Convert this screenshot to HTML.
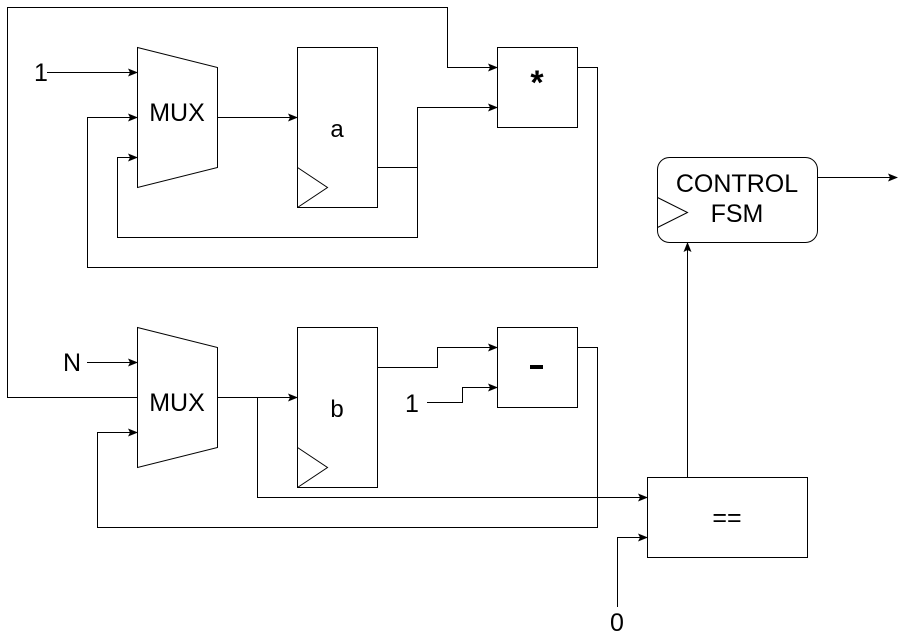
<!DOCTYPE html>
<html><head><style>
body{margin:0;background:#fff;width:906px;height:639px;overflow:hidden}
svg text{font-family:"Liberation Sans",sans-serif;fill:#000}
</style></head><body>
<svg width="906" height="639" viewBox="0 0 906 639" xmlns="http://www.w3.org/2000/svg">
<defs><marker id="a" markerWidth="10" markerHeight="8" refX="9" refY="4" orient="auto" markerUnits="userSpaceOnUse"><path d="M0,0 L10,4 L0,8 L2,4 z" fill="#000"/></marker></defs>
<g fill="none" stroke="#000" stroke-width="1">
<polygon points="137.5,47.5 217.5,67.5 217.5,167.5 137.5,187.5" fill="#fff"/>
<polygon points="137.5,327.5 217.5,347.5 217.5,447.5 137.5,467.5" fill="#fff"/>
<rect x="297.5" y="47.5" width="80" height="160"/>
<path d="M297.5,167.5 L327.5,187.5 L297.5,207.5"/>
<rect x="297.5" y="327.5" width="80" height="160"/>
<path d="M297.5,447.5 L327.5,467.5 L297.5,487.5"/>
<rect x="497.5" y="47.5" width="80" height="80"/>
<rect x="497.5" y="327.5" width="80" height="80"/>
<rect x="657.5" y="157.5" width="160" height="85" rx="12"/>
<path d="M657.5,197.5 L687.5,212.5 L657.5,227.5"/>
<rect x="647.5" y="477.5" width="160" height="80"/>
<path d="M137.5,397.5 H7.5 V7.5 H447.5 V67.5 H497" marker-end="url(#a)"/>
<path d="M47,72.5 H137" marker-end="url(#a)"/>
<path d="M217.5,117.5 H297" marker-end="url(#a)"/>
<path d="M377.5,167.5 H417.5 V107.5 H497" marker-end="url(#a)"/>
<path d="M417.5,167.5 V237.5 H117.5 V157.5 H137" marker-end="url(#a)"/>
<path d="M577.5,67.5 H597.5 V267.5 H87.5 V117.5 H137" marker-end="url(#a)"/>
<path d="M817.5,177.5 H897" marker-end="url(#a)"/>
<path d="M87,362.5 H137" marker-end="url(#a)"/>
<path d="M217.5,397.5 H297" marker-end="url(#a)"/>
<path d="M257.5,397.5 V497.5 H647" marker-end="url(#a)"/>
<path d="M377.5,367.5 H437.5 V347.5 H497" marker-end="url(#a)"/>
<path d="M427,402.5 H462.5 V387.5 H497" marker-end="url(#a)"/>
<path d="M577.5,347.5 H597.5 V527.5 H97.5 V432.5 H137" marker-end="url(#a)"/>
<path d="M617.5,607 V537.5 H647" marker-end="url(#a)"/>
<path d="M687.5,477.5 V243" marker-end="url(#a)"/>
</g>
<g font-size="25" text-anchor="middle">
<text x="177" y="121">MUX</text>
<text x="177" y="411">MUX</text>
<text x="41" y="81">1</text>
<text x="72" y="371">N</text>
<text x="412" y="412">1</text>
<text x="617" y="631">0</text>
<text x="737" y="192">CONTROL</text>
<text x="737" y="222">FSM</text>
<text x="727" y="526">==</text>
</g>
<g font-size="24" text-anchor="middle">
<text x="337" y="137">a</text>
<text x="337" y="417">b</text>
</g>
<text x="537" y="94" font-size="34" font-weight="bold" text-anchor="middle">*</text>
<rect x="530" y="365" width="13" height="4" fill="#000"/>
</svg>
</body></html>
